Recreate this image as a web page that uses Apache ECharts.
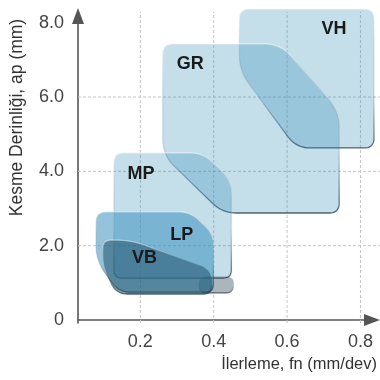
<!DOCTYPE html>
<html>
<head>
<meta charset="utf-8">
<script src="https://cdn.jsdelivr.net/npm/echarts@6/dist/echarts.min.js"></script>
<style>html,body{margin:0;padding:0;background:#fff}#c{width:380px;height:380px}</style>
</head>
<body>
<div id="c"></div>
<script>
// ---- data ----
const xTicks = [0.2, 0.4, 0.6, 0.8];
const yTicks = [0, 2, 4, 6, 8];
const yGrid = [2, 4, 6];
const regionNames = ['VH', 'GR', 'MP', 'LP', 'VB'];
// region outlines (fn, ap) clockwise from top-left
const grayX = [0.36, 0.454, 0.454, 0.36];
const grayY = [1.18, 1.18, 0.73, 0.73];
const vhX = [0.470, 0.837, 0.837, 0.625, 0.470];
const vhY = [8.37, 8.37, 4.63, 4.63, 6.70];
const grX = [0.261, 0.582, 0.742, 0.742, 0.424, 0.261];
const grY = [7.43, 7.43, 5.60, 2.88, 2.88, 4.44];
const mpX = [0.128, 0.372, 0.448, 0.448, 0.128];
const mpY = [4.50, 4.50, 3.74, 1.13, 1.13];
const lpX = [0.079, 0.337, 0.399, 0.399, 0.141, 0.079];
const lpY = [2.91, 2.91, 2.29, 0.75, 0.75, 1.62];
const vbX = [0.098, 0.174, 0.394, 0.394, 0.133, 0.098];
const vbY = [2.15, 2.15, 1.35, 0.70, 0.70, 1.48];
// label anchor points
const labelX = [0.728, 0.336, 0.202, 0.313, 0.211];
const labelY = [7.83, 6.89, 3.94, 2.30, 1.68];

// ---- styles ----
const regions = [
  {xs: grayX, ys: grayY, fill: 'rgba(150,162,170,0.8)', r: [8, 8, 8, 8]},
  {xs: vhX, ys: vhY, fill: 'rgba(43,138,181,0.28)', r: [10, 10, 10, 14, 16]},
  {xs: grX, ys: grY, fill: 'rgba(43,138,181,0.28)', r: [10, 16, 16, 10, 14, 16]},
  {xs: mpX, ys: mpY, fill: 'rgba(43,138,181,0.28)', r: [10, 14, 14, 8, 8]},
  {xs: lpX, ys: lpY, fill: 'rgba(60,145,190,0.55)', r: [10, 12, 12, 8, 12, 14]},
  {xs: vbX, ys: vbY, fill: 'rgba(35,85,110,0.56)', r: [8, 40, 30, 8, 12, 14]}
];

function roundedPoints(pts, R) {
  const out = [];
  const n = pts.length;
  for (let i = 0; i < n; i++) {
    const p = pts[i], a = pts[(i - 1 + n) % n], b = pts[(i + 1) % n];
    const la = Math.hypot(a[0] - p[0], a[1] - p[1]);
    const lb = Math.hypot(b[0] - p[0], b[1] - p[1]);
    const r = Math.min(R[i], la / 2, lb / 2);
    const A = [p[0] + (a[0] - p[0]) * r / la, p[1] + (a[1] - p[1]) * r / la];
    const B = [p[0] + (b[0] - p[0]) * r / lb, p[1] + (b[1] - p[1]) * r / lb];
    for (let k = 0; k <= 10; k++) {
      const t = k / 10, u = 1 - t;
      out.push([u * u * A[0] + 2 * u * t * p[0] + t * t * B[0],
                u * u * A[1] + 2 * u * t * p[1] + t * t * B[1]]);
    }
  }
  return out;
}

const edgeStroke = {
  type: 'linear', x: 0, y: 0, x2: 0, y2: 1,
  colorStops: [
    {offset: 0, color: 'rgba(255,255,255,0.5)'},
    {offset: 0.6, color: 'rgba(60,90,110,0.15)'},
    {offset: 1, color: 'rgba(30,50,65,0.75)'}
  ]
};

const XMIN = 0.03, XMAX = 0.8315, YMIN = -0.08, YMAX = 8.18;
const gridStyle = {stroke: '#c4c4c4', lineWidth: 1, lineDash: [3, 2]};

const chart = echarts.init(document.getElementById('c'), null, {renderer: 'canvas'});
chart.setOption({
  animation: false,
  backgroundColor: '#fff',
  grid: {left: 77, right: 8, top: 16, bottom: 57},
  xAxis: {
    type: 'value', min: XMIN, max: XMAX,
    axisLine: {show: true, lineStyle: {color: '#555', width: 1.6},
      symbol: ['none', 'triangle'], symbolSize: [12, 16]},
    axisTick: {show: false},
    splitLine: {show: false},
    axisLabel: {customValues: xTicks, formatter: v => v.toFixed(1),
      fontSize: 18, color: '#444', margin: 10, fontFamily: 'Liberation Sans'},
    name: 'İlerleme, fn (mm/dev)', nameLocation: 'end', nameGap: 5,
    nameTextStyle: {fontSize: 16.5, color: '#333', align: 'right', verticalAlign: 'top',
      padding: [36, 0, 0, 0], fontFamily: 'Liberation Sans'}
  },
  yAxis: {
    type: 'value', min: YMIN, max: YMAX,
    axisLine: {show: true, lineStyle: {color: '#555', width: 1.6},
      symbol: ['none', 'triangle'], symbolSize: [12, 16]},
    axisTick: {show: false},
    splitLine: {show: false},
    axisLabel: {customValues: yTicks, formatter: v => v === 0 ? '0' : v.toFixed(1),
      fontSize: 18, color: '#444', margin: 14, fontFamily: 'Liberation Sans'},
    name: 'Kesme Derinliği, ap (mm)', nameLocation: 'middle', nameGap: 52,
    nameTextStyle: {fontSize: 17.5, color: '#333', padding: [0, 0, 0, 104],
      fontFamily: 'Liberation Sans'}
  },
  series: [
    {
      type: 'custom', clip: false, z: 1, silent: true,
      data: xTicks.map(v => [v]),
      renderItem: (params, api) => {
        const x = api.value(0);
        const p1 = api.coord([x, YMIN]);
        const p2 = api.coord([x, 8.29]);
        return {type: 'line', shape: {x1: p1[0], y1: p1[1], x2: p2[0], y2: p2[1]}, style: gridStyle};
      }
    },
    {
      type: 'custom', clip: false, z: 1, silent: true,
      data: yGrid.map(v => [XMIN, v]),
      renderItem: (params, api) => {
        const y = api.value(1);
        const p1 = api.coord([XMIN, y]);
        const p2 = api.coord([0.853, y]);
        return {type: 'line', shape: {x1: p1[0], y1: p1[1], x2: p2[0], y2: p2[1]}, style: gridStyle};
      }
    },
    {
      type: 'custom', clip: false, z: 3, silent: true,
      data: regions.map(r => [r.xs[0], r.ys[0]]),
      renderItem: (params, api) => {
        const reg = regions[params.dataIndex];
        const pts = reg.xs.map((x, j) => api.coord([x, reg.ys[j]]));
        return {
          type: 'polygon',
          shape: {points: roundedPoints(pts, reg.r)},
          style: {fill: reg.fill, stroke: edgeStroke, lineWidth: 1.3}
        };
      }
    },
    {
      type: 'custom', clip: false, z: 10, silent: true,
      data: regionNames.map((n, i) => [labelX[i], labelY[i]]),
      renderItem: (params, api) => {
        const p = api.coord([api.value(0), api.value(1)]);
        return {
          type: 'text', x: p[0], y: p[1],
          style: {text: regionNames[params.dataIndex], fill: '#1a1a1a',
            font: 'bold 18px "Liberation Sans"', align: 'center', verticalAlign: 'middle'}
        };
      }
    }
  ]
});
</script>
</body>
</html>
